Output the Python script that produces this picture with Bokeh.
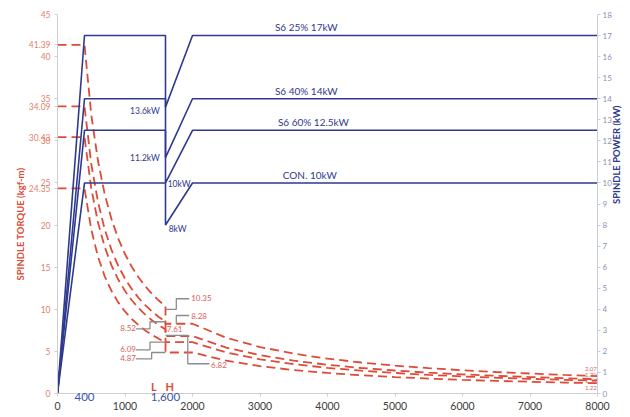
import math
from bokeh.plotting import figure
from bokeh.models import Range1d, LinearAxis, LabelSet, ColumnDataSource, FixedTicker, Title
from bokeh.core.properties import value
from bokeh.embed import file_html
from bokeh.resources import INLINE

# ---------------- data ----------------
rpm_power = [0, 400, 1600, 1600, 2000, 8000]
pw_s6_25 = [0, 17, 17, 13.6, 17, 17]
pw_s6_40 = [0, 14, 14, 11.2, 14, 14]
pw_s6_60 = [0, 12.5, 12.5, 10, 12.5, 12.5]
pw_con = [0, 10, 10, 8, 10, 10]

rpm_torque = [0, 400, 500, 600, 700, 800, 900, 1000, 1100, 1200, 1300, 1400, 1500, 1600,
              1600, 2000, 2500, 3000, 3500, 4000, 4500, 5000, 5500, 6000, 6500, 7000, 7500, 8000]
tq_s6_25 = [41.39, 41.39, 33.12, 27.60, 23.65, 20.70, 18.40, 16.56, 15.05, 13.80, 12.74, 11.83, 11.04, 10.35,
            8.28, 8.28, 6.62, 5.52, 4.73, 4.14, 3.68, 3.31, 3.01, 2.76, 2.55, 2.37, 2.21, 2.07]
tq_s6_40 = [34.09, 34.09, 27.27, 22.73, 19.48, 17.05, 15.15, 13.64, 12.40, 11.36, 10.49, 9.74, 9.09, 8.52,
            6.82, 6.82, 5.45, 4.55, 3.90, 3.41, 3.03, 2.73, 2.48, 2.27, 2.10, 1.95, 1.82, 1.70]
tq_s6_60 = [30.43, 30.43, 24.35, 20.29, 17.39, 15.22, 13.53, 12.18, 11.07, 10.15, 9.37, 8.70, 8.12, 7.61,
            6.09, 6.09, 4.87, 4.06, 3.48, 3.04, 2.71, 2.44, 2.21, 2.03, 1.87, 1.74, 1.62, 1.52]
tq_con = [24.35, 24.35, 19.48, 16.23, 13.91, 12.18, 10.82, 9.74, 8.85, 8.12, 7.49, 6.96, 6.49, 6.09,
          4.87, 4.87, 3.90, 3.25, 2.78, 2.44, 2.16, 1.95, 1.77, 1.62, 1.50, 1.39, 1.30, 1.22]

power_names = ["S6 25%  17kW", "S6 40%  14kW", "S6 60%  12.5kW", "CON.  10kW"]
drop_names = ["13.6kW", "11.2kW", "10kW", "8kW"]
peak_torque_labels = ["41.39", "34.09", "30.43", "24.35"]
peak_torque_values = [41.39, 34.09, 30.43, 24.35]
end_torque_labels = ["2.07", "1.70", "1.52", "1.22"]
x_ticks = [0, 1000, 2000, 3000, 4000, 5000, 6000, 7000, 8000]
speed_ticks = [400, 1600]
speed_tick_labels = ["400", "1,600"]
y_ticks = [0, 5, 10, 15, 20, 25, 30, 35, 40, 45]
power_ticks = list(range(0, 19))

NAVY = "#2f3a8f"
RED = "#dd4b39"
LRED = "#d9605a"
GREY = "#8c8c8c"
FONT = "Lato"

p = figure(width=630, height=417, x_range=Range1d(0, 8000), y_range=Range1d(0, 45),
           output_backend="svg", toolbar_location=None,
           min_border_left=57, min_border_right=29, min_border_top=14, min_border_bottom=24)
p.extra_y_ranges = {"power": Range1d(0, 18)}
p.outline_line_color = None
p.xgrid.visible = False
p.ygrid.visible = False

# ---- bottom axis (inner): speed markers 400 / 1,600 and tick marks ----
ax_in = p.xaxis[0]
inner_ticks = sorted(x_ticks + speed_ticks)
ax_in.ticker = FixedTicker(ticks=inner_ticks)
ov = {t: "" for t in x_ticks}
for t, s in zip(speed_ticks, speed_tick_labels):
    ov[t] = s
ax_in.major_label_overrides = ov
ax_in.axis_line_color = "#cfcfcf"
ax_in.major_tick_line_color = "#cfcfcf"
ax_in.major_tick_out = 3
ax_in.major_tick_in = 0
ax_in.minor_tick_line_color = None
ax_in.major_label_standoff = -4
ax_in.major_label_text_font = FONT
ax_in.major_label_text_font_size = "11.5px"
ax_in.major_label_text_color = "#3b55a8"

# ---- bottom axis (outer): rpm tick labels ----
ax_out = LinearAxis(ticker=FixedTicker(ticks=x_ticks))
ax_out.axis_line_color = None
ax_out.major_tick_line_color = None
ax_out.minor_tick_line_color = None
ax_out.major_tick_out = 0
ax_out.major_tick_in = 0
ax_out.major_label_standoff = -2
ax_out.major_label_text_font = FONT
ax_out.major_label_text_font_size = "10.5px"
ax_out.major_label_text_color = "#404040"
p.add_layout(ax_out, "below")

# ---- left axis: torque ----
ay = p.yaxis[0]
ay.ticker = FixedTicker(ticks=sorted(y_ticks + peak_torque_values))
ay.major_label_overrides = {v: s for v, s in zip(peak_torque_values, peak_torque_labels)}
ay.axis_line_color = "#cfcfcf"
ay.major_tick_line_color = "#cfcfcf"
ay.major_tick_out = 3
ay.major_tick_in = 0
ay.minor_tick_line_color = None
ay.major_label_standoff = 4
ay.major_label_text_font = FONT
ay.major_label_text_font_size = "8.5px"
ay.major_label_text_color = "#df7f70"

p.add_layout(Title(text="SPINDLE TORQUE (kgf-m)", align="left", offset=113, standoff=0,
                   text_font=FONT, text_font_size="9.5px", text_font_style="bold", text_color=RED),
             "left")

# ---- right axis: power ----
ax_r = LinearAxis(y_range_name="power", ticker=FixedTicker(ticks=power_ticks))
ax_r.axis_line_color = "#c8cde2"
ax_r.major_tick_line_color = "#c8cde2"
ax_r.major_tick_out = 3
ax_r.major_tick_in = 0
ax_r.minor_tick_line_color = None
ax_r.major_label_standoff = 2
ax_r.major_label_text_font = FONT
ax_r.major_label_text_font_size = "8px"
ax_r.major_label_text_color = "#8a90b8"
ax_r.axis_label = "SPINDLE POWER (kW)"
ax_r.axis_label_orientation = math.pi / 2
ax_r.axis_label_standoff = 2
ax_r.axis_label_text_font = FONT
ax_r.axis_label_text_font_size = "9.5px"
ax_r.axis_label_text_font_style = "bold"
ax_r.axis_label_text_color = NAVY
p.add_layout(ax_r, "right")

# torque curves (red dashed)
for tq in [tq_s6_25, tq_s6_40, tq_s6_60, tq_con]:
    p.line(rpm_torque, tq, line_color=RED, line_width=1.8, line_dash="9 5")

# power curves (navy)
for pw in [pw_s6_25, pw_s6_40, pw_s6_60, pw_con]:
    p.line(rpm_power, pw, y_range_name="power", line_color=NAVY, line_width=1.6)

# leader lines (call-outs)
p.multi_line(
    xs=[[1600, 1760, 1760, 1950], [1760, 1760, 1950], [1160, 1370, 1370, 1600],
        [1600, 1930, 1930, 2250], [1160, 1370, 1370, 1600], [1160, 1395, 1395, 1600]],
    ys=[[10.0, 10.0, 11.25, 11.25], [8.28, 9.26, 9.26], [7.68, 7.68, 8.52, 8.52],
        [6.9, 6.9, 3.53, 3.53], [5.19, 5.19, 6.09, 6.09], [4.12, 4.12, 4.87, 4.87]],
    line_color=GREY, line_width=1.3)

F = value(FONT)

# power labels
src_pw = ColumnDataSource(dict(x=[3221, 3221, 3265, 3338], y=[17.1, 14.1, 12.6, 10.1], t=power_names))
p.add_layout(LabelSet(x="x", y="y", text="t", source=src_pw, y_range_name="power",
                      text_font=F, text_font_size="10px", text_color=NAVY,
                      text_baseline="bottom", text_align="left"))

src_dr_l = ColumnDataSource(dict(x=[1515, 1515], y=[13.44, 11.2], t=drop_names[:2]))
p.add_layout(LabelSet(x="x", y="y", text="t", source=src_dr_l, y_range_name="power",
                      text_font=F, text_font_size="8.5px", text_color=NAVY,
                      text_baseline="middle", text_align="right"))
src_dr_r = ColumnDataSource(dict(x=[1632, 1647], y=[9.97, 7.83], t=drop_names[2:]))
p.add_layout(LabelSet(x="x", y="y", text="t", source=src_dr_r, y_range_name="power",
                      text_font=F, text_font_size="8.5px", text_color=NAVY,
                      text_baseline="middle", text_align="left"))

# torque value call-outs
src_tl = ColumnDataSource(dict(x=[1981, 1981, 1618, 2275], y=[11.28, 9.26, 7.60, 3.44],
                               t=["10.35", "8.28", "7.61", "6.82"]))
p.add_layout(LabelSet(x="x", y="y", text="t", source=src_tl,
                      text_font=F, text_font_size="8px", text_color=LRED,
                      text_baseline="middle", text_align="left"))
src_tr = ColumnDataSource(dict(x=[1162, 1162, 1162], y=[7.72, 5.23, 4.16], t=["8.52", "6.09", "4.87"]))
p.add_layout(LabelSet(x="x", y="y", text="t", source=src_tr,
                      text_font=F, text_font_size="8px", text_color=LRED,
                      text_baseline="middle", text_align="right"))

# end-of-curve torque labels (at the right edge)
src_end = ColumnDataSource(dict(x=[7990] * 4, y=[2.85, 2.14, 1.43, 0.71], t=end_torque_labels))
p.add_layout(LabelSet(x="x", y="y", text="t", source=src_end,
                      text_font=F, text_font_size="6px", text_color=LRED,
                      text_baseline="middle", text_align="right"))

# winding markers L / H
src_lh = ColumnDataSource(dict(x=[1426, 1662], y=[0.83, 0.83], t=["L", "H"]))
p.add_layout(LabelSet(x="x", y="y", text="t", source=src_lh,
                      text_font=F, text_font_size="11px", text_color=RED, text_font_style="bold",
                      text_baseline="middle", text_align="center"))

open("out.html", "w").write(file_html(p, INLINE))
